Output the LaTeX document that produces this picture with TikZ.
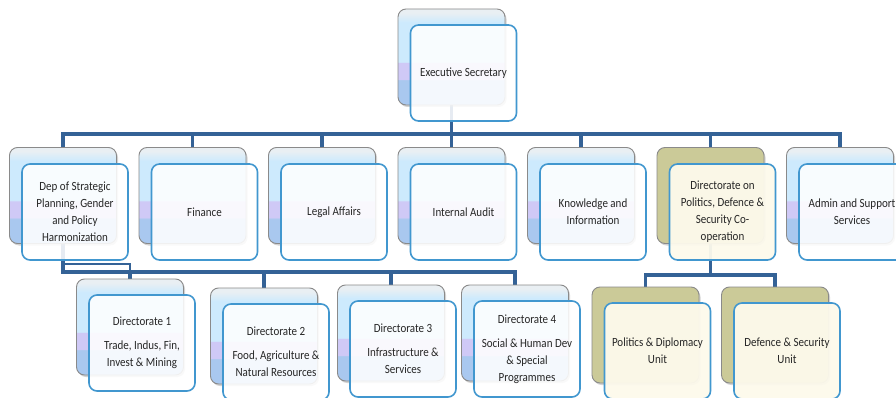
\documentclass[tikz,border=0pt]{standalone}
\usepackage{fontspec}
\setmainfont{Carlito}[FakeStretch=0.88]
\usetikzlibrary{shadows}
\definecolor{conncol}{HTML}{346296}
\definecolor{backline}{HTML}{8A8A8A}
\definecolor{frontline}{HTML}{4197CF}
\definecolor{cblue}{HTML}{A9C8EF}
\definecolor{clav}{HTML}{CFC9F6}
\definecolor{ccyan}{HTML}{CDEAFD}
\definecolor{ctop}{HTML}{E9EFF3}
\definecolor{olivecol}{HTML}{CBCA98}
\definecolor{creamcol}{HTML}{FDFAEC}
\definecolor{txtcol}{HTML}{262626}
\pgfdeclareverticalshading{backshade}{100bp}{color(0bp)=(cblue); color(38bp)=(cblue); color(38.5bp)=(clav); color(47bp)=(clav); color(47.5bp)=(ccyan); color(68bp)=(ccyan); color(73bp)=(ctop); color(100bp)=(ctop)}
\pgfdeclarelayer{bg}
\pgfsetlayers{bg,main}
\tikzset{
  backcard/.style={draw=backline, line width=0.9pt, rounded corners=8pt,
    minimum width=107pt, minimum height=96pt, inner sep=0pt,
    drop shadow={shadow xshift=1.5pt, shadow yshift=-2pt, opacity=0.35}},
  bluecard/.style={backcard, shade, shading=backshade},
  olivecard/.style={backcard, fill=olivecol},
  frontcard/.style={draw=frontline, line width=1.6pt, rounded corners=8pt,
    minimum width=106pt, minimum height=96pt, inner sep=0pt,
    fill=white, fill opacity=0.88, text opacity=1, text=txtcol, align=center,
    font=\fontsize{12.5pt}{17pt}\selectfont},
  creamfront/.style={frontcard, fill=creamcol, fill opacity=0.95},
  conn/.style={draw=conncol, line width=3.5pt},
}
\begin{document}
\begin{tikzpicture}[x=1pt, y=-1pt]
\useasboundingbox (0,0) rectangle (896,398);
\clip (0,0) rectangle (896,398);

% top
\node[bluecard] (b-exec) at (451.5,57) {};
\node[frontcard] (exec) at (463.5,73) {Executive Secretary};

% row 2
\node[bluecard] (b-dep) at (63,195.5) {};
\node[frontcard] (dep) at (75,212) {Dep of Strategic\\Planning, Gender\\and Policy\\Harmonization};
\node[bluecard] (b-fin) at (192.5,195.5) {};
\node[frontcard] (fin) at (204.5,212) {Finance};
\node[bluecard] (b-legal) at (322,195.5) {};
\node[frontcard] (legal) at (334,212) {Legal Affairs};
\node[bluecard] (b-audit) at (451.5,195.5) {};
\node[frontcard] (audit) at (463.5,212) {Internal Audit};
\node[bluecard] (b-know) at (581,195.5) {};
\node[frontcard] (know) at (593,212) {Knowledge and\\Information};
\node[olivecard] (b-pol) at (710.5,195.5) {};
\node[creamfront] (pol) at (722.5,212) {Directorate on\\Politics, Defence \&\\Security Co-\\operation};
\node[bluecard] (b-admin) at (840,195.5) {};
\node[frontcard] (admin) at (852,212) {Admin and Support\\Services};

% row 3
\node[bluecard] (b-d1) at (130,327) {};
\node[frontcard] (d1) at (142,343) {Directorate 1\\[7pt]Trade, Indus, Fin,\\Invest \& Mining};
\node[bluecard] (b-d2) at (264,336) {};
\node[frontcard] (d2) at (276,352) {Directorate 2\\[7pt]Food, Agriculture \&\\Natural Resources};
\node[bluecard] (b-d3) at (391,333) {};
\node[frontcard] (d3) at (403,349) {Directorate 3\\[7pt]Infrastructure \&\\Services};
\node[bluecard] (b-d4) at (515,333) {};
\node[frontcard] (d4) at (527,349) {Directorate 4\\[7pt]Social \& Human Dev\\\& Special\\Programmes};
\node[olivecard] (b-pu) at (645.5,335) {};
\node[creamfront] (pu) at (657.5,351) {Politics \& Diplomacy\\Unit};
\node[olivecard] (b-du) at (775,335) {};
\node[creamfront] (du) at (787,351) {Defence \& Security\\Unit};

% connectors
\coordinate (bus1) at (0,134);
\coordinate (bus2) at (0,272);
\coordinate (bus3) at (0,275);
\coordinate (bus2b) at (0,263.5);
\begin{pgfonlayer}{bg}
\fill[white] (0,0) rectangle (896,398);
\foreach \n in {dep,fin,legal,audit,know,pol,admin}
  \draw[conn] (b-exec.center) -- (b-exec.center |- bus1) -| (b-\n.north);
\foreach \n in {d1,d2,d3,d4}
  \draw[conn] (b-dep.center) -- (b-dep.center |- bus2) -| (b-\n.north);
\draw[conn, line width=2pt] (b-dep.center |- bus2b) -| (b-d1.north);
\foreach \n in {pu,du}
  \draw[conn] (b-pol.center) -- (b-pol.center |- bus3) -| (b-\n.north);
\end{pgfonlayer}
\end{tikzpicture}
\end{document}
